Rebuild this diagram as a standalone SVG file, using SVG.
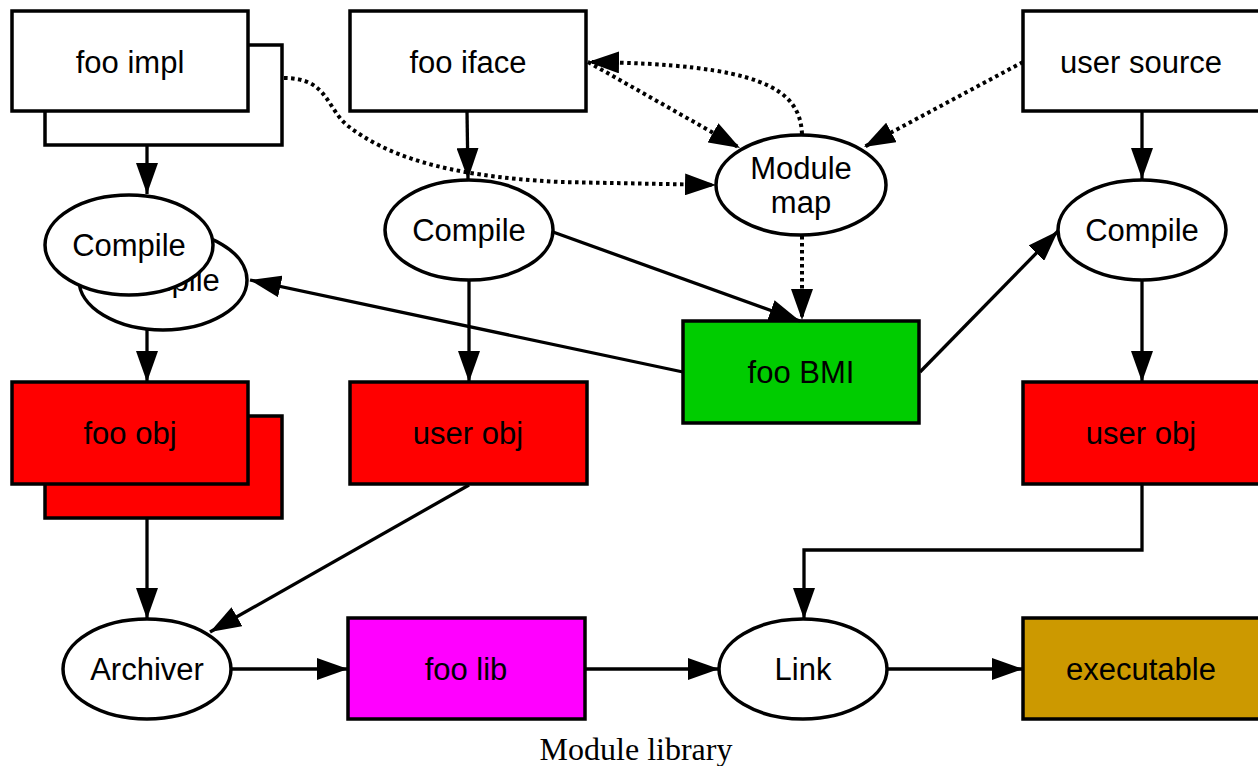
<svg xmlns="http://www.w3.org/2000/svg" width="1258" height="766" viewBox="0 0 1258 766">
  <style>
    .box { stroke: #000; stroke-width: 3.5; }
    .src { fill: #fff; }
    .obj { fill: #ff0000; }
    .bmi { fill: #00cc00; }
    .lib { fill: #ff00ff; }
    .exe { fill: #cc9900; }
    .op { fill: #fff; stroke: #000; stroke-width: 3.5; }
    .lbl { font-family: "Liberation Sans", Arial, sans-serif; font-size: 31px; fill: #000; text-anchor: middle; }
    .edge { fill: none; stroke: #000; stroke-width: 3.3; marker-end: url(#arrow); }
    .dot { stroke-width: 4; stroke-dasharray: 3.5 3.5; }
    .caption { font-family: "Liberation Serif", "Times New Roman", serif; font-size: 32px; fill: #000; text-anchor: middle; }
  </style>
  <defs>
    <marker id="arrow" markerUnits="userSpaceOnUse" markerWidth="32" markerHeight="22" refX="31" refY="11" orient="auto">
      <path d="M0,0 L31,11 L0,22 z" fill="#000" stroke="none"/>
    </marker>
  </defs>

  <rect width="1258" height="766" fill="#fff"/>

  <!-- sources -->
  <g id="foo-impl">
    <rect class="box src" x="45" y="45" width="237" height="100"/>
    <rect class="box src" x="12" y="11" width="236" height="100"/>
    <text class="lbl" x="130" y="73">foo impl</text>
  </g>
  <g id="foo-iface">
    <rect class="box src" x="350" y="11" width="236" height="100"/>
    <text class="lbl" x="468" y="73">foo iface</text>
  </g>
  <g id="user-source">
    <rect class="box src" x="1023" y="11" width="240" height="100"/>
    <text class="lbl" x="1141" y="73">user source</text>
  </g>

  <!-- compile steps -->
  <g id="compile-impl">
    <ellipse class="op" cx="163" cy="280" rx="84" ry="50"/>
    <text class="lbl" x="163" y="291">Compile</text>
    <ellipse class="op" cx="129" cy="245" rx="84" ry="50"/>
    <text class="lbl" x="129" y="256">Compile</text>
  </g>
  <g id="compile-iface">
    <ellipse class="op" cx="469" cy="230" rx="84" ry="50"/>
    <text class="lbl" x="469" y="241">Compile</text>
  </g>
  <g id="module-map">
    <ellipse class="op" cx="801" cy="185" rx="85" ry="50"/>
    <text class="lbl" x="801" y="179">Module</text>
    <text class="lbl" x="801" y="213">map</text>
  </g>
  <g id="compile-user">
    <ellipse class="op" cx="1142" cy="230" rx="84" ry="50"/>
    <text class="lbl" x="1142" y="241">Compile</text>
  </g>

  <!-- build products -->
  <g id="foo-bmi">
    <rect class="box bmi" x="683" y="321" width="236" height="102"/>
    <text class="lbl" x="801" y="383">foo BMI</text>
  </g>
  <g id="foo-obj">
    <rect class="box obj" x="45" y="416" width="237" height="102"/>
    <rect class="box obj" x="12" y="382" width="236" height="102"/>
    <text class="lbl" x="130" y="444">foo obj</text>
  </g>
  <g id="user-obj-lib">
    <rect class="box obj" x="350" y="382" width="237" height="102"/>
    <text class="lbl" x="468" y="444">user obj</text>
  </g>
  <g id="user-obj-exe">
    <rect class="box obj" x="1023" y="382" width="240" height="102"/>
    <text class="lbl" x="1141" y="444">user obj</text>
  </g>

  <!-- link stage -->
  <g id="archiver">
    <ellipse class="op" cx="147" cy="669" rx="84" ry="50"/>
    <text class="lbl" x="147" y="680">Archiver</text>
  </g>
  <g id="foo-lib">
    <rect class="box lib" x="348" y="618" width="237" height="101"/>
    <text class="lbl" x="466" y="680">foo lib</text>
  </g>
  <g id="link">
    <ellipse class="op" cx="803" cy="669" rx="84" ry="50"/>
    <text class="lbl" x="803" y="680">Link</text>
  </g>
  <g id="executable">
    <rect class="box exe" x="1023" y="618" width="240" height="101"/>
    <text class="lbl" x="1141" y="680">executable</text>
  </g>

  <!-- connectors -->
  <g id="connectors">
    <path class="edge" d="M147,145 V194"/>
    <path class="edge" d="M467,111 L468,179"/>
    <path class="edge" d="M1142,111 V179"/>
    <path class="edge" d="M147,330 V382"/>
    <path class="edge" d="M469,281 V382"/>
    <path class="edge" d="M1142,281 V382"/>
    <path class="edge" d="M553,232 L800,321"/>
    <path class="edge" d="M683,372 L250,280"/>
    <path class="edge" d="M920,372 L1058,231"/>
    <path class="edge" d="M147,518 V619"/>
    <path class="edge" d="M469,485 L210,632"/>
    <path class="edge" d="M1142,484 V550 H804 V619"/>
    <path class="edge" d="M232,669 H348"/>
    <path class="edge" d="M585,669 H719"/>
    <path class="edge" d="M888,669 H1023"/>

    <path class="edge dot" d="M284,78 C328,78 326,108 348,126 C385,154 440,176 560,182 L716,185"/>
    <path class="edge dot" d="M588,62 L740,148"/>
    <path class="edge dot" d="M802,134 C800,88 760,64 588,62"/>
    <path class="edge dot" d="M1023,62 L864,147"/>
    <path class="edge dot" d="M802,236 V320"/>
  </g>

  <text class="caption" x="636" y="760">Module library</text>
</svg>
